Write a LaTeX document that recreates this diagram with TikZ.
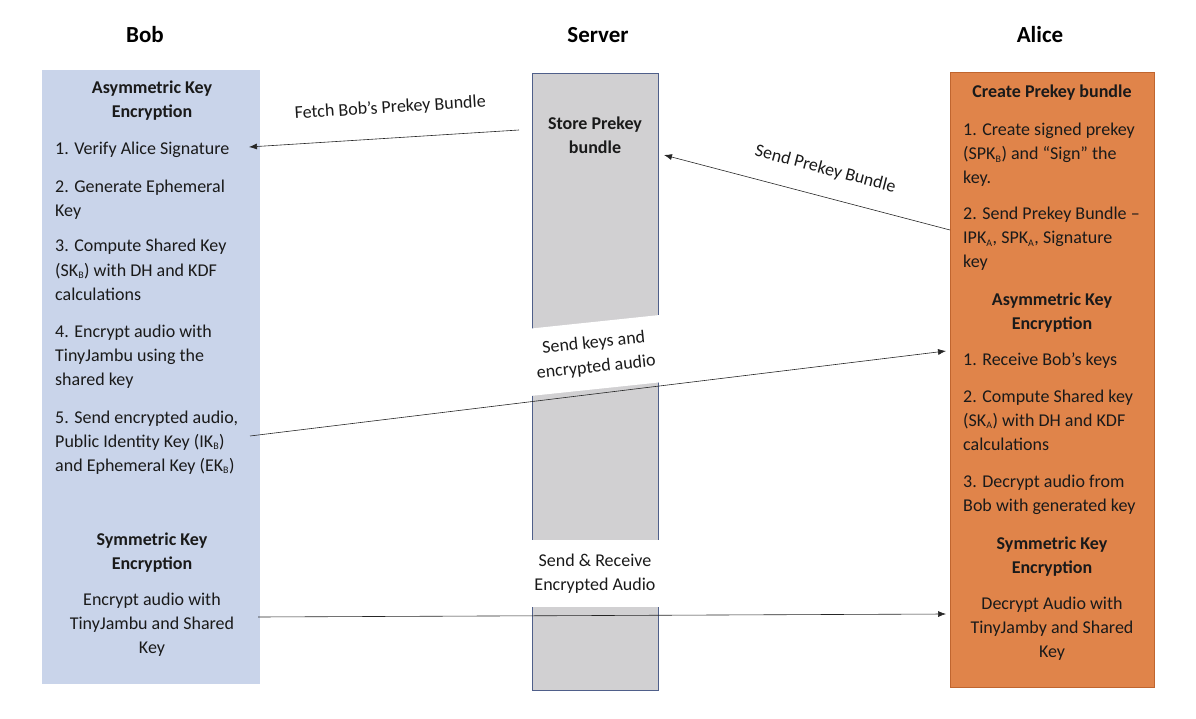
\documentclass[tikz,border=0pt]{standalone}
\usepackage{fontspec}
\setmainfont{Carlito}
\usetikzlibrary{arrows.meta}
\definecolor{bobfill}{HTML}{C9D4EA}
\definecolor{alicefill}{HTML}{E0844A}
\definecolor{aliceline}{HTML}{C0652F}
\definecolor{srvfill}{HTML}{D1D0D2}
\definecolor{srvline}{HTML}{4F5F8A}
\definecolor{txtcol}{HTML}{1A1A1A}
\newcommand\bodyfs{\fontsize{18}{24}\selectfont}
\newcommand\sub[1]{\textsubscript{\fontsize{10}{10}\selectfont #1}}
\tikzset{
  lane/.style={rectangle, inner sep=0pt},
  txt/.style={font=\bodyfs, text=txtcol, align=left, anchor=base west, inner sep=0pt},
  ctxt/.style={font=\bodyfs, text=txtcol, align=center, anchor=base, inner sep=0pt},
  btxt/.style={font=\bodyfs\bfseries, text=txtcol, align=center, anchor=base, inner sep=0pt},
  hd/.style={font=\fontsize{23}{26}\selectfont\bfseries, anchor=base, inner sep=0pt},
  gap/.style={fill=white, font=\bodyfs, text=txtcol, align=center, minimum width=150pt, minimum height=67pt, inner sep=0pt},
  arr/.style={-{Latex[length=8pt,width=6pt]}, line width=0.6pt, draw=black!85},
  lbl/.style={font=\bodyfs, text=txtcol, inner sep=0pt}
}
\begin{document}
\begin{tikzpicture}[x=1pt,y=-1pt]
\useasboundingbox (0,0) rectangle (1196,719);
% headers
\node[hd] (hbob) at (145,43) {Bob};
\node[hd] (hsrv) at (598,43) {Server};
\node[hd] (hali) at (1040,43) {Alice};
% lanes
\node[lane, fill=bobfill, minimum width=218pt, minimum height=614pt] (bob) at (151,377) {};
\node[lane, fill=alicefill, draw=aliceline, line width=1pt, minimum width=204pt, minimum height=614pt] (alice) at (1052,380) {};
\node[lane, fill=srvfill, draw=srvline, line width=1pt, minimum width=126pt, minimum height=616pt] (srv) at (595,382) {};
% server gaps
\node[gap, rotate=6] (gap1) at (595,355.5) {Send keys and\\encrypted audio};
\node[gap] (gap2) at (595,573.5) {Send \& Receive\\Encrypted Audio};
\node[btxt] (store) at (595,154) {Store Prekey\\bundle};
% Bob text
\node[btxt] (b0) at (152,118) {Asymmetric Key\\Encryption};
\node[txt] (b1) at (55,155) {1. Verify Alice Signature};
\node[txt] (b2) at (55,217) {2. Generate Ephemeral\\Key};
\node[txt] (b3) at (55,300) {3. Compute Shared Key\\(SK\sub{B}) with DH and KDF\\calculations};
\node[txt] (b4) at (55,385) {4. Encrypt audio with\\TinyJambu using the\\shared key};
\node[txt] (b5) at (55,471) {5. Send encrypted audio,\\Public Identity Key (IK\sub{B})\\and Ephemeral Key (EK\sub{B})};
\node[btxt] (b6) at (152,569) {Symmetric Key\\Encryption};
\node[ctxt] (b7) at (152,653) {Encrypt audio with\\TinyJambu and Shared\\Key};
% Alice text
\node[btxt] (a0) at (1052,98) {Create Prekey bundle};
\node[txt] (a1) at (963,184) {1. Create signed prekey\\(SPK\sub{B}) and “Sign” the\\key.};
\node[txt] (a2) at (963,268) {2. Send Prekey Bundle –\\IPK\sub{A}, SPK\sub{A}, Signature\\key};
\node[btxt] (a3) at (1052,329) {Asymmetric Key\\Encryption};
\node[txt] (a4) at (963,365) {1. Receive Bob’s keys};
\node[txt] (a5) at (963,450) {2. Compute Shared key\\(SK\sub{A}) with DH and KDF\\calculations};
\node[txt] (a6) at (963,511) {3. Decrypt audio from\\Bob with generated key};
\node[btxt] (a7) at (1052,573) {Symmetric Key\\Encryption};
\node[ctxt] (a8) at (1052,657) {Decrypt Audio with\\TinyJamby and Shared\\Key};
% connector endpoints
\coordinate (fS) at (519,130);
\coordinate (fB) at (249,147);
\coordinate (pA) at (950,230);
\coordinate (pS) at (664,155);
\coordinate (kB) at (250,436);
\coordinate (kA) at (946,351);
\coordinate (sB) at (258,617);
\coordinate (sA) at (946,614);
\draw[arr] (fS) -- (fB) node[lbl, pos=0.47, sloped, above=22pt] {Fetch Bob’s Prekey Bundle};
\draw[arr] (pA) -- (pS) node[lbl, pos=0.46, sloped, above=19pt] {Send Prekey Bundle};
\draw[arr] (kB) -- (kA);
\draw[arr] (sB) -- (sA);
\end{tikzpicture}
\end{document}
